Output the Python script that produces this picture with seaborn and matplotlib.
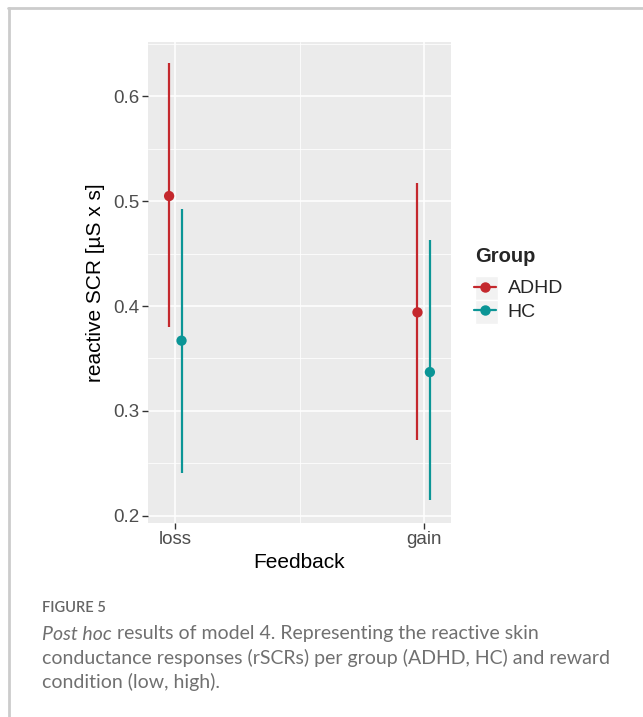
import numpy as np
import pandas as pd
import matplotlib
matplotlib.use("Agg")
import matplotlib.pyplot as plt
from matplotlib.lines import Line2D
from matplotlib.patches import Rectangle
import seaborn as sns

# values
feedback = ["loss", "gain"]
groups = ["ADHD", "HC"]
adhd_est = [0.505, 0.394]
adhd_low = [0.380, 0.272]
adhd_high = [0.632, 0.517]
hc_est = [0.367, 0.337]
hc_low = [0.241, 0.215]
hc_high = [0.493, 0.463]

colors = {"ADHD": "#C4282D", "HC": "#0B9596"}
dodge = {"ADHD": -0.025, "HC": 0.025}

rows = []
for g, est, lo, hi in [("ADHD", adhd_est, adhd_low, adhd_high), ("HC", hc_est, hc_low, hc_high)]:
    for i, f in enumerate(feedback):
        rows.append({"Feedback": f, "Group": g, "est": est[i], "low": lo[i], "high": hi[i]})
df = pd.DataFrame(rows)
df["x"] = df["Feedback"].map({f: i for i, f in enumerate(feedback)}) + df["Group"].map(dodge)

sns.set_theme(style="darkgrid")
plt.rcParams["font.family"] = ["Liberation Sans", "DejaVu Sans"]

fig = plt.figure(figsize=(6.43, 7.17), dpi=100)
ax = fig.add_axes([148 / 643, 1 - 523 / 717, 303 / 643, 481 / 717])
ax.set_facecolor("#EBEBEB")

for g in groups:
    d = df[df["Group"] == g]
    ax.vlines(d["x"], d["low"], d["high"], color=colors[g], lw=1.6, zorder=3)
sns.scatterplot(data=df, x="x", y="est", hue="Group", palette=colors, s=55,
                edgecolor="none", legend=False, zorder=4, ax=ax)

ax.set_xlim(-0.11, 1.11)
ax.set_ylim(0.193, 0.652)
ax.set_xticks(range(len(feedback)))
ax.set_xticklabels(feedback)
ax.set_yticks([0.2, 0.3, 0.4, 0.5, 0.6])
ax.set_xticks([0.5], minor=True)
ax.set_yticks([0.25, 0.35, 0.45, 0.55, 0.65], minor=True)
ax.grid(which="major", color="white", lw=1.1)
ax.grid(which="minor", color="white", lw=0.55)
for s in ax.spines.values():
    s.set_visible(False)
ax.tick_params(which="major", length=4, width=1, color="#333333", labelsize=13.5,
               labelcolor="#4D4D4D", pad=2, bottom=True, left=True)
ax.tick_params(which="minor", length=0)
ax.set_xlabel("Feedback", fontsize=15, color="black", labelpad=3)
ax.set_ylabel("reactive SCR [µS x s]", fontsize=15, color="black", labelpad=6)

# legend
fig.text(475 / 643, 1 - 256 / 717, "Group", fontsize=14.5, weight="bold", va="center", ha="left")
for i in range(2):
    fig.patches.append(Rectangle((475 / 643, 1 - (300 + i * 24) / 717), 23 / 643, 24 / 717,
                                 transform=fig.transFigure, facecolor="#F2F2F2",
                                 edgecolor="white", lw=1, zorder=0))
handles = [Line2D([0], [0], color=colors[g], lw=1.6, marker="o", markersize=6.5) for g in groups]
fig.legend(handles, groups, loc="upper left", bbox_to_anchor=(468 / 643, 1 - 274 / 717),
           frameon=False, fontsize=14, handlelength=1.15, handletextpad=0.6,
           labelspacing=0.3, borderaxespad=0, borderpad=0.3)

# card border
fig.add_artist(Line2D([8 / 643, 1], [1 - 8 / 717] * 2, transform=fig.transFigure, color="#CCCCCC", lw=2))
fig.add_artist(Line2D([9 / 643] * 2, [0, 1 - 8 / 717], transform=fig.transFigure, color="#CCCCCC", lw=2))

# caption
cap_font = ["Lato", "DejaVu Sans"]
cap_col = "#707070"
fig.text(42 / 643, 1 - 608 / 717, "FIGURE 5", fontsize=10.5, color="#666666",
         family=cap_font, weight="semibold", va="center")
t = fig.text(42 / 643, 1 - 634 / 717, "Post hoc", fontsize=14, color=cap_col, style="italic",
             family=cap_font, va="center")
r = fig.canvas.get_renderer()
x_end = t.get_window_extent(r).x1 / fig.bbox.width
fig.text(x_end, 1 - 634 / 717, " results of model 4. Representing the reactive skin",
         fontsize=14, color=cap_col, family=cap_font, va="center")
fig.text(42 / 643, 1 - 658 / 717, "conductance responses (rSCRs) per group (ADHD, HC) and reward",
         fontsize=14, color=cap_col, family=cap_font, va="center")
fig.text(42 / 643, 1 - 682 / 717, "condition (low, high).", fontsize=14, color=cap_col,
         family=cap_font, va="center")

fig.savefig("out.png", dpi=100)
